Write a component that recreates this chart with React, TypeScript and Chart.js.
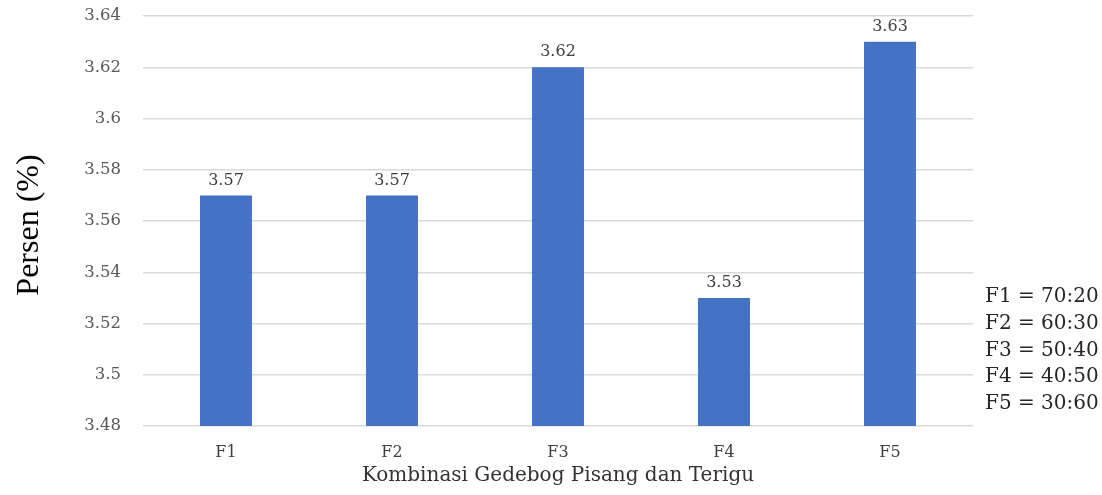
import React, { useEffect, useRef } from "react";
import { Chart, registerables } from "chart.js";

Chart.register(...registerables);

const categories = ["F1", "F2", "F3", "F4", "F5"];
const values = [3.57, 3.57, 3.62, 3.53, 3.63];
const yMin = 3.48;
const yMax = 3.64;
const yStep = 0.02;
const xTitle = "Kombinasi Gedebog Pisang dan Terigu";
const yTitle = "Persen (%)";
const ratioNotes = ["F1 = 70:20", "F2 = 60:30", "F3 = 50:40", "F4 = 40:50", "F5 = 30:60"];

const SERIF = "'DejaVu Serif', serif";

const annotations = {
  id: "annotations",
  afterDatasetsDraw(chart: any) {
    const { ctx, chartArea } = chart;
    ctx.save();
    // value labels above each bar
    const meta = chart.getDatasetMeta(0);
    ctx.font = `16px ${SERIF}`;
    ctx.fillStyle = "#404040";
    ctx.textAlign = "center";
    ctx.textBaseline = "middle";
    meta.data.forEach((bar: any, i: number) => {
      ctx.fillText(values[i].toFixed(2), bar.x, bar.y - 15);
    });

    // x axis title
    ctx.font = `20px ${SERIF}`;
    ctx.fillStyle = "#333333";
    ctx.fillText(xTitle, (chartArea.left + chartArea.right) / 2, 476);

    // y axis title
    ctx.save();
    ctx.translate(30, (chartArea.top + chartArea.bottom) / 2 + 4);
    ctx.rotate(-Math.PI / 2);
    ctx.font = `32px 'Liberation Serif', serif`;
    ctx.fillStyle = "#000000";
    ctx.fillText(yTitle, 0, 0);
    ctx.restore();

    // ratio notes on the right
    ctx.font = `20px ${SERIF}`;
    ctx.fillStyle = "#262626";
    ctx.textAlign = "left";
    ratioNotes.forEach((t, i) => {
      ctx.fillText(t, 985, 297 + i * 26.75);
    });
    ctx.restore();
  },
};

export default function App() {
  const canvasRef = useRef<HTMLCanvasElement>(null);

  useEffect(() => {
    if (!canvasRef.current) return;
    const chart = new Chart(canvasRef.current, {
      type: "bar",
      data: {
        labels: categories,
        datasets: [
          {
            data: values,
            backgroundColor: "#4472C4",
            borderWidth: 0,
            categoryPercentage: 0.313,
            barPercentage: 1,
          },
        ],
      },
      options: {
        animation: false,
        responsive: false,
        maintainAspectRatio: false,
        layout: { padding: { top: 16, right: 129, left: 0, bottom: 0 } },
        plugins: {
          legend: { display: false },
          tooltip: { enabled: false },
        },
        scales: {
          x: {
            grid: { display: false, drawTicks: false },
            border: { display: false },
            ticks: {
              font: { family: SERIF, size: 16 },
              color: "#404040",
              padding: 17,
            },
            afterFit: (scale: any) => {
              scale.height = 69;
            },
          },
          y: {
            min: yMin,
            max: yMax,
            grid: { color: "#d9d9d9", lineWidth: 1.5, drawTicks: false },
            border: { display: false },
            ticks: {
              stepSize: yStep,
              font: { family: SERIF, size: 16.5 },
              color: "#595959",
              padding: 22,
              callback: (v: any) => String(Number(Number(v).toFixed(2))),
            },
            afterFit: (scale: any) => {
              scale.width = 143;
              scale.paddingTop = 0;
              scale.paddingBottom = 0;
            },
          },
        },
      },
      plugins: [annotations],
    });
    return () => chart.destroy();
  }, []);

  return (
    <div style={{ position: "fixed", left: 0, top: 0, width: 1102, height: 495, background: "#ffffff" }}>
      <canvas ref={canvasRef} width={1102} height={495} />
    </div>
  );
}
